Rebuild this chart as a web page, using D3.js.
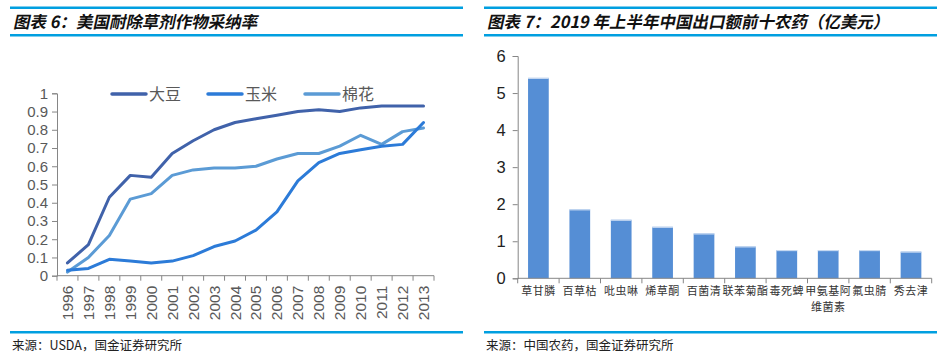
<!DOCTYPE html>
<html><head><meta charset="utf-8">
<script src="https://cdn.jsdelivr.net/npm/d3@7"></script>
<style>
body{margin:0;background:#fff;}
svg{display:block;}
</style></head>
<body>
<svg id="c" width="946" height="360"></svg>
<script>
// ---- Left chart data ----
const years = ["1996","1997","1998","1999","2000","2001","2002","2003","2004","2005","2006","2007","2008","2009","2010","2011","2012","2013"];
const soybean = [0.07,0.17,0.43,0.55,0.54,0.67,0.74,0.80,0.84,0.86,0.88,0.90,0.91,0.90,0.92,0.93,0.93,0.93];
const corn    = [0.03,0.04,0.09,0.08,0.07,0.08,0.11,0.16,0.19,0.25,0.35,0.52,0.62,0.67,0.69,0.71,0.72,0.84];
const cotton  = [0.02,0.10,0.22,0.42,0.45,0.55,0.58,0.59,0.59,0.60,0.64,0.67,0.67,0.71,0.77,0.72,0.79,0.81];
const seriesNames = ["大豆","玉米","棉花"];
const leftTicks = [0,0.1,0.2,0.3,0.4,0.5,0.6,0.7,0.8,0.9,1];
const leftTickLabels = ["0","0.1","0.2","0.3","0.4","0.5","0.6","0.7","0.8","0.9","1"];

// ---- Right chart data ----
const pesticides = ["草甘膦","百草枯","吡虫啉","烯草酮","百菌清","联苯菊酯","毒死蜱","甲氨基阿维菌素","氟虫腈","秀去津"];
const exportValues = [5.41,1.86,1.58,1.39,1.21,0.86,0.76,0.76,0.76,0.72];
const rightTicks = [0,1,2,3,4,5,6];
const rightTickLabels = ["0","1","2","3","4","5","6"];

const svg = d3.select("#c");
const blue = "#009FE0";
const cjk = "'Noto Sans CJK SC', 'Noto Sans', sans-serif";
const num = "'Liberation Sans', Arial, sans-serif";

// ---- Frames ----
function frame(x0, x1, title, source){
  svg.append("rect").attr("x",x0).attr("y",6.5).attr("width",x1-x0).attr("height",2.5).attr("fill",blue);
  svg.append("rect").attr("x",x0).attr("y",34).attr("width",x1-x0).attr("height",2.5).attr("fill",blue);
  svg.append("rect").attr("x",x0).attr("y",331).attr("width",x1-x0).attr("height",2.5).attr("fill",blue);
  svg.append("text").attr("x",x0+3).attr("y",28)
    .attr("transform",`translate(${x0+3},28) skewX(-12) translate(${-(x0+3)},-28)`)
    .attr("font-family",cjk).attr("font-size",16.5).attr("font-weight","bold").attr("fill","#111")
    .text(title);
  svg.append("text").attr("x",x0+2).attr("y",350)
    .attr("font-family",cjk).attr("font-size",12.5).attr("fill","#222")
    .text(source);
}
frame(10,463,"图表 6：美国耐除草剂作物采纳率","来源：USDA，国金证券研究所");
frame(484,937,"图表 7：2019 年上半年中国出口额前十农药（亿美元）","来源：中国农药，国金证券研究所");

// ---- Left line chart ----
const axisColor = "#868686";
const lx = d3.scaleBand().domain(years).range([57,434]);
const ly = d3.scaleLinear().domain([0,1]).range([275.7,93.3]);

const gL = svg.append("g");
const yAxL = d3.axisLeft(ly).tickValues(leftTicks).tickFormat((d,i)=>leftTickLabels[i]).tickSize(5).tickPadding(4);
const gyL = gL.append("g").attr("transform","translate(57,0)").call(yAxL);
gyL.select(".domain").attr("stroke",axisColor);
gyL.selectAll(".tick line").attr("stroke",axisColor);
gyL.selectAll("text").attr("font-family",num).attr("font-size",15).attr("fill","#595959");

const gxL = gL.append("g").attr("transform","translate(0,275.7)");
gxL.append("line").attr("x1",57).attr("x2",434).attr("y1",0).attr("y2",0).attr("stroke",axisColor);
const bounds = years.map(y=>lx(y)).concat([434]);
gxL.selectAll("line.tk").data(bounds).enter().append("line")
  .attr("x1",d=>d).attr("x2",d=>d).attr("y1",0).attr("y2",5).attr("stroke",axisColor);
gxL.selectAll("text").data(years).enter().append("text")
  .attr("transform",d=>`translate(${lx(d)+lx.bandwidth()/2+5.5},10) rotate(-90)`)
  .attr("text-anchor","end").attr("font-family",num).attr("font-size",15.5).attr("fill","#595959")
  .text(d=>d);

const colors = ["#4062AA","#2C7BD8","#5B9BD5"];
const dataSets = [soybean, corn, cotton];
const line = d3.line().x((d,i)=>lx(years[i])+lx.bandwidth()/2).y(d=>ly(d));
[2,1,0].forEach(k=>{
  gL.append("path").attr("d",line(dataSets[k])).attr("fill","none")
    .attr("stroke",colors[k]).attr("stroke-width",3).attr("stroke-linejoin","round").attr("stroke-linecap","round");
});
const legX = [112,208,305];
seriesNames.forEach((n,k)=>{
  gL.append("line").attr("x1",legX[k]).attr("x2",legX[k]+34).attr("y1",94).attr("y2",94)
    .attr("stroke",colors[k]).attr("stroke-width",3.5).attr("stroke-linecap","round");
  gL.append("text").attr("x",legX[k]+37).attr("y",100).attr("font-family",cjk)
    .attr("font-size",16).attr("fill","#595959").text(n);
});

// ---- Right bar chart ----
const rx = d3.scaleBand().domain(pesticides).range([517.7,931.7]).paddingInner(0.5).paddingOuter(0.25);
const rxb = d3.scaleBand().domain(pesticides).range([517.7,931.7]);
const ry = d3.scaleLinear().domain([0,6]).range([278.3,56]);
const gR = svg.append("g");
const yAxR = d3.axisLeft(ry).tickValues(rightTicks).tickFormat((d,i)=>rightTickLabels[i]).tickSize(5).tickPadding(7);
const gyR = gR.append("g").attr("transform","translate(517.7,0)").call(yAxR);
gyR.select(".domain").attr("stroke",axisColor);
gyR.selectAll(".tick line").attr("stroke",axisColor);
gyR.selectAll("text").attr("font-family",num).attr("font-size",16.5).attr("fill","#222");

gR.selectAll("rect.bar").data(pesticides).enter().append("rect")
  .attr("x",d=>rx(d)).attr("width",rx.bandwidth())
  .attr("y",(d,i)=>ry(exportValues[i])).attr("height",(d,i)=>ry(0)-ry(exportValues[i]))
  .attr("fill","#558ED5");
gR.selectAll("line.top").data(pesticides).enter().append("line")
  .attr("x1",d=>rx(d)).attr("x2",d=>rx(d)+rx.bandwidth())
  .attr("y1",(d,i)=>ry(exportValues[i])+0.5).attr("y2",(d,i)=>ry(exportValues[i])+0.5)
  .attr("stroke","#D6E3F5").attr("stroke-width",1);

const gxR = gR.append("g").attr("transform","translate(0,278.3)");
gxR.append("line").attr("x1",517.7).attr("x2",931.7).attr("stroke",axisColor);
const rb = pesticides.map(p=>rxb(p)).concat([931.7]);
gxR.selectAll("line.tk").data(rb).enter().append("line")
  .attr("x1",d=>d).attr("x2",d=>d).attr("y1",0).attr("y2",5).attr("stroke",axisColor);
pesticides.forEach((p,i)=>{
  const cx = rxb(p)+rxb.bandwidth()/2;
  const lines = p.length>5 ? [p.slice(0,4), p.slice(4)] : [p];
  lines.forEach((t,j)=>{
    gxR.append("text").attr("x",cx).attr("y",17+j*16).attr("text-anchor","middle")
      .attr("font-family",cjk).attr("font-size",11).attr("letter-spacing",0.5).attr("fill","#333").text(t);
  });
});
</script>
</body></html>
